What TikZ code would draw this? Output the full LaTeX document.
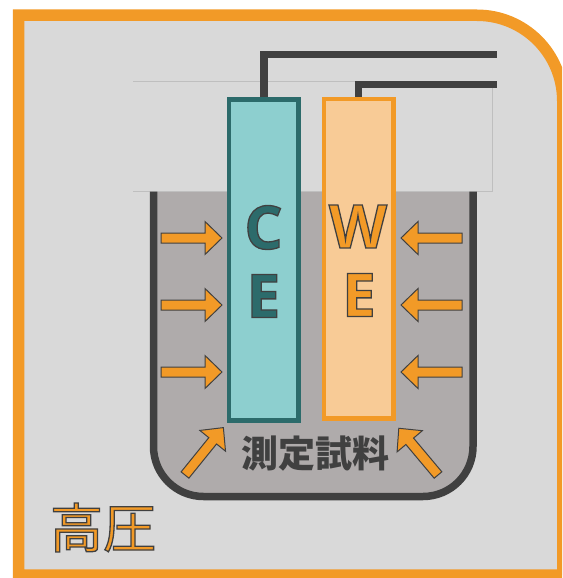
\documentclass[tikz,border=0pt]{standalone}
\usepackage{fontspec}
\setmainfont{Open Sans}
\newfontfamily\jpfont{Noto Sans CJK JP}

\definecolor{frameorange}{HTML}{F29A27}
\definecolor{panelgray}{HTML}{D9D9D9}
\definecolor{liquid}{HTML}{AFABAB}
\definecolor{inkdark}{HTML}{404040}
\definecolor{tealline}{HTML}{2C6B6B}
\definecolor{tealfill}{HTML}{8DCFCF}
\definecolor{wefill}{HTML}{F8CB96}
\definecolor{lidline}{HTML}{BFBFBF}

% glyphs filled in the current colour and stroked with a thin dark edge
\newcommand\edgedtext[1]{%
  \special{pdf:literal direct 0.251 0.251 0.251 RG 1.3 w 2 Tr}%
  #1%
  \special{pdf:literal direct 0 Tr}}

\tikzset{
  wire/.style={draw=inkdark, line width=7.5pt},
  electrode/.style={rectangle, line width=4.7pt, inner sep=0pt},
  bigletter/.style={inner sep=0pt, font=\bfseries\fontsize{60}{60}\selectfont},
  sampletext/.style={inner sep=0pt, text=inkdark, font=\jpfont\bfseries\fontsize{37}{37}\selectfont},
  pressuretext/.style={inner sep=0pt, text=frameorange, font=\jpfont\fontsize{53}{53}\selectfont},
  pressarrow/.pic={
    \draw[draw=inkdark, fill=frameorange, line width=1pt, line join=miter]
      (0,-5) -- (44,-5) -- (44,-16.5) -- (61,0) -- (44,16.5) -- (44,5) -- (0,5) -- cycle;
  }
}

\begin{document}
\begin{tikzpicture}[x=1pt,y=-1pt]
\useasboundingbox (0,0) rectangle (562,578);
\clip (0,0) rectangle (562,578);

% panel with orange frame, rounded at the top right
\draw[fill=panelgray, draw=frameorange, line width=11.5pt]
  (18.5,575) -- (18.5,15.25) -- (477,15.25)
  arc[start angle=-90, end angle=0, radius=85.75] -- (562.75,575) -- cycle;

% lid outline
\draw[lidline, line width=1pt] (133,81) -- (492,81) -- (492,191.5);

% liquid in the vessel
\begin{scope}
  \clip (100,191.5) rectangle (520,520);
  \fill[liquid, rounded corners=50pt] (153.5,100) -- (153.5,496.5) -- (473,496.5) -- (473,100) -- cycle;
\end{scope}
\draw[lidline, line width=1pt] (133,191.5) -- (492,191.5);

% vessel walls
\draw[inkdark, line width=7.5pt, rounded corners=50pt]
  (153.5,191.5) -- (153.5,496.5) -- (473,496.5) -- (473,191.5);

% electrodes
\node[electrode, draw=tealline, fill=tealfill, minimum width=69.6pt, minimum height=321pt] (CE) at (263.8,260) {};
\node[electrode, draw=frameorange, fill=wefill, minimum width=69.1pt, minimum height=319.3pt] (WE) at (358.6,258.7) {};

% leads
\coordinate (ceout) at (496.5,54.5);
\coordinate (weout) at (496.5,84.5);
\draw[wire] (CE.north) |- (ceout);
\draw[wire] (WE.north) |- (weout);

% electrode labels
\node[bigletter, text=tealline] (ceC) at (263.5,227.5) {\edgedtext{C}};
\node[bigletter, text=tealline] (ceE) at (263.5,296) {\edgedtext{E}};
\node[bigletter, text=frameorange] (weW) at (358,226.5) {\edgedtext{W}};
\node[bigletter, text=frameorange] (weE) at (359,295) {\edgedtext{E}};

% pressure arrows
\foreach \y in {238,305,372} {
  \pic at (161,\y) {pressarrow};
  \pic[rotate=180] at (462,\y) {pressarrow};
}
\pic[rotate=51] at (185,475) {pressarrow};
\pic[rotate=130] at (438,475) {pressarrow};

% texts
\node[sampletext] (sample) at (315,454) {測定試料};
\node[pressuretext] (pressure) at (103,527.5) {\edgedtext{高圧}};
\end{tikzpicture}
\end{document}
